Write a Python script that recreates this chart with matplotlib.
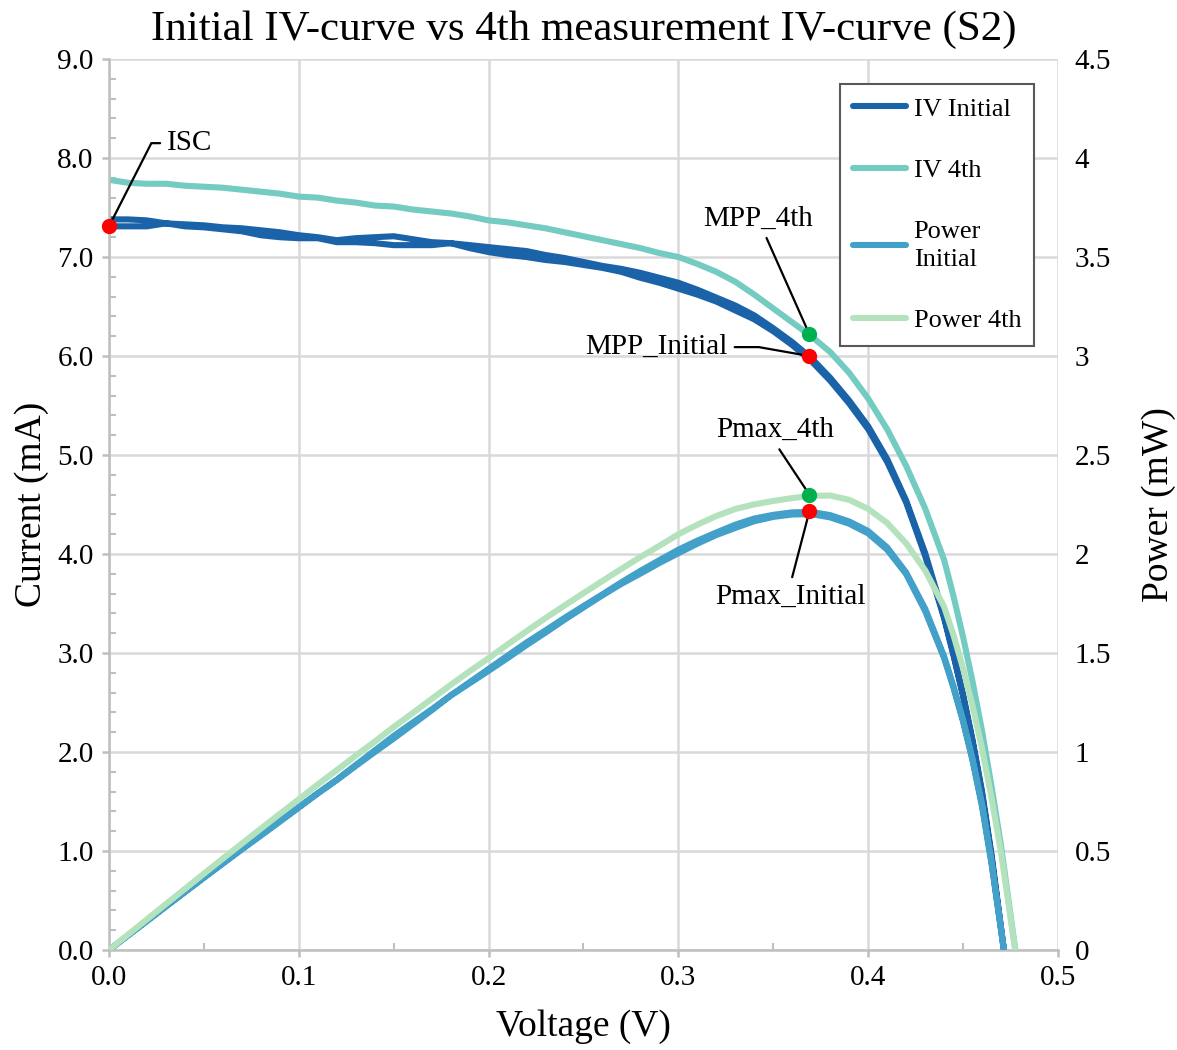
import matplotlib
matplotlib.use("Agg")
import matplotlib.pyplot as plt
from matplotlib.ticker import MultipleLocator, FormatStrFormatter, FuncFormatter
import numpy as np

plt.rcParams['font.family'] = ['Liberation Serif', 'DejaVu Serif']

# initial measurement: forward and reverse sweep share the same voltage steps
v_init = [0.000, 0.010, 0.020, 0.030, 0.040, 0.050, 0.060, 0.070, 0.080, 0.090,
          0.100, 0.110, 0.120, 0.130, 0.140, 0.150, 0.160, 0.170, 0.180, 0.190,
          0.200, 0.210, 0.220, 0.230, 0.240, 0.250, 0.260, 0.270, 0.280, 0.290,
          0.300, 0.310, 0.320, 0.330, 0.340, 0.350, 0.360, 0.370, 0.380, 0.390,
          0.400, 0.410, 0.420, 0.430, 0.440, 0.445, 0.450, 0.455, 0.460, 0.465,
          0.4715]
i_init_fwd = [7.38, 7.38, 7.37, 7.34, 7.33, 7.32, 7.30, 7.29, 7.27, 7.25,
              7.22, 7.20, 7.17, 7.19, 7.20, 7.21, 7.18, 7.15, 7.14, 7.12,
              7.10, 7.08, 7.06, 7.02, 6.99, 6.95, 6.91, 6.88, 6.84, 6.79,
              6.74, 6.67, 6.59, 6.51, 6.41, 6.28, 6.14, 5.98, 5.78, 5.55,
              5.29, 4.96, 4.54, 4.01, 3.37, 2.99, 2.58, 2.12, 1.60, 0.96,
              0.0]
i_init_rev = [7.31, 7.31, 7.31, 7.34, 7.31, 7.30, 7.28, 7.26, 7.22, 7.20,
              7.19, 7.19, 7.15, 7.15, 7.14, 7.12, 7.12, 7.12, 7.14, 7.09,
              7.05, 7.02, 7.00, 6.97, 6.95, 6.92, 6.89, 6.85, 6.79, 6.74,
              6.68, 6.62, 6.55, 6.46, 6.37, 6.25, 6.11, 5.95, 5.75, 5.52,
              5.26, 4.93, 4.52, 3.98, 3.35, 2.97, 2.56, 2.10, 1.57, 0.93,
              0.0]
p_init_fwd = [0.0, 0.0738, 0.1474, 0.2202, 0.2932, 0.366, 0.438, 0.5103, 0.5816, 0.6525,
              0.722, 0.792, 0.8604, 0.9347, 1.008, 1.0815, 1.1488, 1.2155, 1.2852, 1.3528,
              1.42, 1.4868, 1.5532, 1.6146, 1.6776, 1.7375, 1.7966, 1.8576, 1.9152, 1.9691,
              2.022, 2.0677, 2.1088, 2.1483, 2.1794, 2.198, 2.2104, 2.2126, 2.1964, 2.1645,
              2.116, 2.0336, 1.9068, 1.7243, 1.4828, 1.3306, 1.161, 0.9646, 0.736, 0.4464,
              0.0]
p_init_rev = [0.0, 0.0731, 0.1462, 0.2202, 0.2924, 0.365, 0.4368, 0.5082, 0.5776, 0.648,
              0.719, 0.7909, 0.858, 0.9295, 0.9996, 1.068, 1.1392, 1.2104, 1.2852, 1.3471,
              1.41, 1.4742, 1.54, 1.6031, 1.668, 1.73, 1.7914, 1.8495, 1.9012, 1.9546,
              2.004, 2.0522, 2.096, 2.1318, 2.1658, 2.1875, 2.1996, 2.2015, 2.185, 2.1528,
              2.104, 2.0213, 1.8984, 1.7114, 1.474, 1.3217, 1.152, 0.9555, 0.7222, 0.4325,
              0.0]

# 4th measurement
v_4th = [0.000, 0.010, 0.020, 0.030, 0.040, 0.050, 0.060, 0.070, 0.080, 0.090,
         0.100, 0.110, 0.120, 0.130, 0.140, 0.150, 0.160, 0.170, 0.180, 0.190,
         0.200, 0.210, 0.220, 0.230, 0.240, 0.250, 0.260, 0.270, 0.280, 0.290,
         0.300, 0.310, 0.320, 0.330, 0.340, 0.350, 0.360, 0.370, 0.380, 0.390,
         0.400, 0.410, 0.420, 0.430, 0.440, 0.445, 0.450, 0.455, 0.460, 0.465,
         0.470, 0.4775]
i_4th = [7.78, 7.75, 7.74, 7.74, 7.72, 7.71, 7.70, 7.68, 7.66, 7.64,
         7.61, 7.60, 7.57, 7.55, 7.52, 7.51, 7.48, 7.46, 7.44, 7.41,
         7.37, 7.35, 7.32, 7.29, 7.25, 7.21, 7.17, 7.13, 7.09, 7.04,
         7.00, 6.93, 6.85, 6.75, 6.62, 6.48, 6.34, 6.20, 6.04, 5.83,
         5.57, 5.26, 4.89, 4.46, 3.94, 3.57, 3.16, 2.71, 2.21, 1.65,
         1.05, 0.0]
p_4th = [0.0, 0.0775, 0.1548, 0.2322, 0.3088, 0.3855, 0.462, 0.5376, 0.6128, 0.6876,
         0.761, 0.836, 0.9084, 0.9815, 1.0528, 1.1265, 1.1968, 1.2682, 1.3392, 1.4079,
         1.474, 1.5435, 1.6104, 1.6767, 1.74, 1.8025, 1.8642, 1.9251, 1.9852, 2.0416,
         2.10, 2.1483, 2.192, 2.2275, 2.2508, 2.268, 2.2824, 2.294, 2.2952, 2.2737,
         2.228, 2.1566, 2.0538, 1.9178, 1.7336, 1.5887, 1.422, 1.2331, 1.0166, 0.7673,
         0.4935, 0.0]

# characteristic points
isc_v, isc_i = 0.0, 7.31
mpp_v = 0.369
mpp_i_init, mpp_i_4th = 6.00, 6.22
pmax_init, pmax_4th = 2.215, 2.30

series_names = ["IV Initial", "IV 4th", "Power\nInitial", "Power 4th"]
series_colors = ["#1b63a8", "#74cbc2", "#43a0c9", "#b4e2bc"]

fig = plt.figure(figsize=(11.77, 10.5), dpi=100)
ax = fig.add_axes([0.0926, 0.0952, 0.8063, 0.8486])
ax2 = ax.twinx()

lw = 4.4
line_kw = dict(lw=lw, solid_capstyle='round', solid_joinstyle='round')

# forward sweep out, reverse sweep back as one trace
v_loop = list(v_init) + list(v_init[::-1])
l1, = ax.plot(v_loop, list(i_init_fwd) + list(i_init_rev[::-1]),
              color=series_colors[0], label=series_names[0], **line_kw)
l2, = ax.plot(v_4th, i_4th, color=series_colors[1], label=series_names[1], **line_kw)
l3, = ax2.plot(v_loop, list(p_init_fwd) + list(p_init_rev[::-1]),
               color=series_colors[2], label=series_names[2], **line_kw)
l4, = ax2.plot(v_4th, p_4th, color=series_colors[3], label=series_names[3], **line_kw)

mk = dict(marker='o', ms=10, ls='none', zorder=6)
ax.plot([isc_v], [isc_i], color='#ff0000', clip_on=False, **mk)
ax.plot([mpp_v], [mpp_i_init], color='#ff0000', **mk)
ax.plot([mpp_v], [mpp_i_4th], color='#00b050', **mk)
ax2.plot([mpp_v], [pmax_init], color='#ff0000', **mk)
ax2.plot([mpp_v], [pmax_4th], color='#00b050', **mk)

# callouts
fs_ann = 21
arr = dict(arrowstyle='-', color='black', lw=1.6, shrinkA=3, shrinkB=0)
ax.annotate("ISC", xy=(isc_v, isc_i), xytext=(0.0306, 8.15), ha='left', va='center',
            fontsize=fs_ann,
            arrowprops=dict(arr, relpos=(0, 0.5),
                            connectionstyle="angle,angleA=0,angleB=63,rad=0"))
ax.annotate("MPP_4th", xy=(mpp_v, mpp_i_4th), xytext=(0.342, 7.39), ha='center', va='center',
            fontsize=fs_ann, arrowprops=dict(arr, relpos=(0.55, 0)))
ax.annotate("MPP_Initial", xy=(mpp_v, mpp_i_init), xytext=(0.326, 6.09), ha='right', va='center',
            fontsize=fs_ann,
            arrowprops=dict(arr, relpos=(1, 0.5),
                            connectionstyle="angle,angleA=0,angleB=170,rad=0"))
ax2.annotate("Pmax_4th", xy=(mpp_v, pmax_4th), xytext=(0.351, 2.626), ha='center', va='center',
             fontsize=fs_ann, arrowprops=dict(arr, relpos=(0.5, 0)))
ax2.annotate("Pmax_Initial", xy=(mpp_v, pmax_init), xytext=(0.359, 1.783), ha='center', va='center',
             fontsize=fs_ann, arrowprops=dict(arr, relpos=(0.5, 1)))

# axes
ax.set_xlim(0, 0.5)
ax.set_ylim(0, 9)
ax2.set_ylim(0, 4.5)
ax.xaxis.set_major_locator(MultipleLocator(0.1))
ax.xaxis.set_minor_locator(MultipleLocator(0.05))
ax.yaxis.set_major_locator(MultipleLocator(1.0))
ax.yaxis.set_minor_locator(MultipleLocator(0.2))
ax.xaxis.set_major_formatter(FormatStrFormatter('%.1f'))
ax.yaxis.set_major_formatter(FormatStrFormatter('%.1f'))
ax2.yaxis.set_major_locator(MultipleLocator(0.5))
ax2.yaxis.set_major_formatter(FuncFormatter(lambda v, p: '%g' % v))

ax.grid(True, which='major', color='#d9d9d9', lw=1.8)
ax.set_axisbelow(True)
for sp in ['top', 'right']:
    ax.spines[sp].set_visible(False)
for sp in ['left', 'bottom']:
    ax.spines[sp].set_color('#bfbfbf')
    ax.spines[sp].set_linewidth(1.8)
for sp in ax2.spines.values():
    sp.set_visible(False)

ax.tick_params(which='major', direction='out', length=5, width=1.8, color='#bfbfbf',
               labelsize=21, pad=6)
ax.tick_params(which='minor', direction='in', length=5, width=1.5, color='#bfbfbf')
ax2.tick_params(which='major', length=0, labelsize=21, pad=12)

ax.set_xlabel("Voltage (V)", fontsize=27, labelpad=13)
ax.set_ylabel("Current (mA)", fontsize=27, labelpad=6)
ax2.set_ylabel("Power (mW)", fontsize=27, labelpad=22)
ax.set_title("Initial IV-curve vs 4th measurement IV-curve (S2)", fontsize=31, pad=14)

leg = ax2.legend(handles=[l1, l2, l3, l4], loc='upper left', bbox_to_anchor=(0.770, 0.972),
                 borderaxespad=0, fontsize=19, frameon=True, fancybox=False,
                 framealpha=1, edgecolor='#595959', handlelength=2.0,
                 handletextpad=0.3, labelspacing=1.45, borderpad=0.5)
leg.get_frame().set_linewidth(1.5)
for t in leg.get_texts():
    t.set_linespacing(1.35)

fig.savefig("out.png", dpi=100)
